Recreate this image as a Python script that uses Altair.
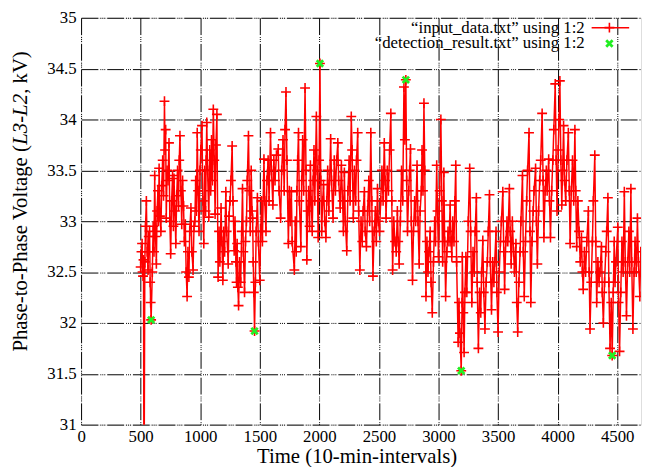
import altair as alt
import pandas as pd

# ---- data: (time, voltage) ----
seg_500_1000 = [
    (500, 32.55), (507, 32.7), (512, 32.78), (516, 32.5), (520, 32.46), (524, 32.62), (528, 30.0),
    (535, 32.6), (541, 32.95), (548, 33.2), (555, 32.7), (562, 32.52), (568, 32.85),
    (575, 32.9), (580, 32.4), (584, 32.2), (588, 32.03),
    (598, 32.5), (605, 32.95), (612, 32.7), (618, 33.45), (625, 32.85), (632, 32.58), (638, 33.1),
    (645, 33.3), (650, 33.0), (655, 33.52), (662, 33.05), (670, 32.9), (677, 33.35),
    (685, 33.6), (692, 33.25), (700, 34.18), (705, 33.7), (710, 33.9), (715, 33.03), (722, 33.5),
    (730, 33.4), (738, 33.77), (745, 33.0), (752, 32.68), (760, 33.2), (768, 33.45),
    (775, 32.95), (780, 33.42), (788, 33.1), (795, 32.78), (803, 33.25), (810, 33.5),
    (818, 33.15), (824, 33.6), (830, 33.84), (838, 33.3), (845, 32.97), (852, 33.4), (860, 33.15),
    (867, 32.8), (875, 32.97), (882, 32.5), (890, 32.26), (897, 32.7), (905, 32.45),
    (912, 32.9), (922, 33.13), (930, 32.7), (940, 32.52), (948, 32.95), (955, 33.0),
    (962, 33.4), (968, 33.1), (975, 33.87), (982, 33.3), (990, 32.9), (998, 33.5),
]
seg_1000_2000 = [
    (1005, 33.7), (1015, 33.94), (1022, 33.2), (1030, 32.78), (1038, 33.5), (1045, 33.1),
    (1050, 33.6), (1055, 33.97), (1062, 33.5), (1072, 33.04), (1080, 33.7), (1088, 33.3),
    (1095, 33.8), (1102, 33.4), (1110, 34.1), (1118, 33.6), (1125, 33.07), (1132, 33.75),
    (1140, 34.05), (1150, 32.45),
    (1158, 32.9), (1165, 32.6), (1175, 33.13), (1182, 32.8), (1190, 32.42), (1198, 32.9),
    (1205, 32.7), (1215, 33.29), (1222, 32.9), (1235, 32.58), (1242, 33.05), (1250, 33.2),
    (1258, 33.4), (1268, 33.74), (1275, 33.2), (1285, 32.71), (1292, 33.0), (1300, 32.6),
    (1305, 32.4), (1310, 32.78), (1316, 32.35), (1322, 32.17), (1330, 32.6), (1340, 32.4),
    (1348, 32.9), (1355, 33.32), (1362, 32.7), (1372, 32.3), (1380, 32.8), (1388, 33.0),
    (1395, 33.4), (1405, 33.84), (1412, 33.3), (1420, 32.9), (1428, 33.5), (1435, 33.1),
    (1440, 33.03), (1445, 32.6), (1450, 32.3), (1456, 31.92),
    (1463, 32.4), (1470, 32.9), (1480, 33.23), (1488, 32.8), (1500, 32.42), (1508, 32.9),
    (1515, 33.2), (1522, 32.8), (1535, 33.61), (1542, 33.2), (1552, 32.9), (1560, 33.4),
    (1570, 33.6), (1578, 33.2), (1590, 33.87), (1598, 33.5), (1610, 33.16), (1618, 33.6),
    (1628, 33.4), (1640, 33.65), (1655, 33.71), (1662, 33.3), (1675, 33.03), (1684, 33.5),
    (1695, 33.8), (1705, 33.3), (1712, 33.9), (1720, 34.27), (1728, 33.6), (1740, 32.78), (1748, 33.3),
    (1755, 33.0), (1765, 33.29), (1772, 32.8), (1790, 32.52), (1798, 33.0), (1806, 32.7),
    (1812, 33.3), (1818, 33.6), (1825, 33.87), (1832, 33.2), (1845, 32.75), (1852, 33.4),
    (1860, 33.8), (1868, 33.3), (1880, 34.31), (1888, 33.5), (1895, 32.62), (1902, 33.1),
    (1910, 33.3), (1918, 32.95), (1925, 33.55), (1932, 33.2), (1940, 32.9), (1948, 33.4),
    (1955, 33.7), (1962, 33.2), (1975, 34.03), (1982, 33.5), (1990, 32.84), (1998, 33.6),
]
seg_2000_3000 = [
    (2005, 34.55), (2012, 33.4), (2020, 32.9),
    (2028, 33.2), (2035, 33.36), (2045, 33.0), (2055, 32.84), (2062, 33.2),
    (2070, 33.5), (2080, 33.1), (2095, 33.81), (2102, 33.4), (2115, 33.03), (2125, 33.6),
    (2135, 33.3), (2145, 33.6), (2155, 33.77), (2162, 33.4), (2175, 33.13), (2185, 33.55),
    (2195, 33.2), (2202, 32.9), (2210, 33.48), (2218, 33.0), (2230, 32.71), (2240, 33.3),
    (2250, 33.6), (2258, 33.2), (2268, 34.03), (2275, 33.7), (2285, 33.03), (2295, 33.5),
    (2305, 33.2), (2312, 33.6), (2322, 33.87), (2330, 33.1), (2340, 32.52), (2350, 33.0),
    (2360, 32.8), (2368, 33.1), (2378, 33.29), (2385, 32.9), (2395, 32.75), (2405, 33.1),
    (2415, 33.4), (2422, 33.0), (2432, 33.87), (2440, 33.2), (2450, 32.46), (2460, 32.9),
    (2470, 33.1), (2478, 32.8), (2488, 33.32), (2495, 33.0), (2505, 32.9), (2515, 33.2),
    (2525, 33.5), (2535, 33.2), (2545, 33.77), (2552, 33.4), (2560, 33.03), (2570, 33.5),
    (2580, 33.3), (2590, 33.7), (2600, 34.06), (2608, 33.2), (2615, 32.52), (2625, 33.0),
    (2635, 32.8), (2645, 32.7), (2655, 33.1), (2662, 32.8), (2670, 32.58), (2680, 33.0),
    (2690, 33.5), (2700, 33.2), (2710, 34.32), (2718, 33.8), (2726, 34.39), (2733, 33.4),
    (2740, 32.9), (2750, 33.3),
    (2758, 33.5), (2765, 33.71), (2772, 33.0), (2782, 32.42), (2790, 32.9), (2800, 33.2),
    (2808, 33.0), (2820, 33.55), (2828, 33.0), (2838, 32.58), (2846, 33.1), (2856, 33.3),
    (2862, 33.7), (2870, 33.3), (2878, 34.16), (2885, 33.5), (2895, 32.26), (2903, 32.8),
    (2912, 32.5), (2920, 32.7), (2930, 32.9), (2938, 32.4), (2948, 32.1), (2958, 32.6),
    (2968, 33.0), (2975, 32.8), (2985, 33.55), (2992, 33.1),
]
seg_3000_4000 = [
    (3000, 32.65), (3010, 33.3), (3020, 34.0), (3028, 33.2), (3035, 32.6),
    (3042, 33.0), (3045, 33.48), (3052, 32.8), (3060, 32.26), (3070, 32.7), (3080, 32.9),
    (3088, 32.8), (3098, 33.16), (3105, 32.8), (3112, 32.65), (3120, 33.0), (3130, 32.8),
    (3138, 33.2), (3145, 33.55), (3152, 32.6), (3165, 31.81), (3172, 32.2), (3180, 31.9), (3191, 31.53),
    (3198, 32.2), (3200, 32.65), (3208, 32.1), (3215, 31.71), (3222, 32.3), (3230, 32.65), (3238, 32.3),
    (3250, 33.0), (3262, 33.52), (3270, 32.9), (3280, 32.2), (3290, 32.7), (3300, 32.5),
    (3308, 32.9), (3318, 33.23), (3325, 32.4), (3335, 31.75), (3345, 32.3), (3355, 32.1),
    (3362, 32.5), (3372, 32.81), (3380, 32.3), (3390, 31.94), (3400, 32.4), (3410, 32.6),
    (3418, 32.9), (3428, 33.26), (3435, 32.6), (3445, 32.13), (3455, 32.6), (3465, 32.4),
    (3472, 32.6), (3483, 32.9), (3490, 32.3), (3500, 31.91), (3510, 32.5), (3520, 32.8),
    (3528, 33.0), (3540, 33.29), (3548, 32.7), (3555, 32.33), (3565, 32.8), (3575, 33.0),
    (3582, 32.8), (3595, 33.32), (3602, 32.9), (3610, 32.58), (3620, 33.0), (3630, 32.7),
    (3638, 32.5), (3650, 32.78), (3657, 32.2), (3665, 31.91), (3675, 32.4), (3685, 32.7),
    (3692, 33.0), (3705, 33.45), (3712, 32.7), (3720, 32.26), (3730, 32.8), (3740, 33.2),
    (3748, 33.5), (3760, 33.87), (3768, 32.9), (3775, 32.2), (3785, 32.8), (3795, 33.1),
    (3802, 33.3), (3815, 33.52), (3822, 33.0), (3830, 32.58), (3840, 33.1), (3850, 33.4),
    (3858, 33.6), (3870, 34.06), (3878, 33.4), (3885, 32.84), (3895, 33.3), (3905, 33.5),
    (3912, 33.3), (3925, 33.61), (3932, 33.2), (3940, 32.84), (3950, 33.3), (3960, 33.6),
    (3968, 33.9), (3980, 34.35), (3988, 33.6), (3995, 33.1),
]
seg_4000_4700 = [
    (4005, 33.7), (4012, 34.0), (4019, 34.38), (4027, 33.6), (4035, 33.16),
    (4042, 33.5), (4050, 33.94), (4058, 33.4), (4068, 33.2), (4078, 33.6), (4090, 33.87),
    (4098, 33.3), (4105, 32.78),
    (4115, 33.3), (4125, 33.6), (4135, 33.2), (4145, 33.9), (4152, 33.3), (4160, 32.75),
    (4170, 33.2), (4180, 32.9),
    (4190, 32.6), (4200, 32.84), (4208, 32.5), (4215, 32.33), (4225, 32.7), (4235, 32.5),
    (4245, 32.8), (4258, 33.1), (4265, 32.5), (4272, 31.94), (4282, 32.4), (4292, 32.8),
    (4300, 33.2), (4312, 33.65), (4320, 32.8), (4328, 32.2), (4338, 32.6), (4348, 32.4),
    (4355, 32.5), (4368, 32.75), (4375, 32.3), (4384, 32.0), (4394, 32.4), (4404, 32.7),
    (4412, 32.9), (4422, 33.23), (4430, 32.4), (4440, 31.75), (4450, 32.2), (4458, 31.68),
    (4467, 32.3), (4475, 32.8), (4482, 32.4), (4490, 32.6), (4505, 32.94), (4512, 32.2),
    (4520, 31.72), (4530, 32.3),
    (4540, 32.8), (4550, 32.5), (4560, 33.29), (4568, 32.6), (4578, 32.07), (4588, 32.6),
    (4598, 32.9), (4605, 32.5), (4615, 33.32), (4622, 32.6), (4632, 31.94), (4642, 32.5),
    (4650, 32.8), (4660, 32.5), (4670, 33.03), (4678, 32.6), (4690, 32.26), (4698, 32.7),
]

det_time = [588, 1456, 2005, 2726, 3191, 4458]
det_voltage = [32.03, 31.92, 34.55, 34.39, 31.53, 31.68]

x_ticks = [0, 500, 1000, 1500, 2000, 2500, 3000, 3500, 4000, 4500]
y_ticks = [31, 31.5, 32, 32.5, 33, 33.5, 34, 34.5, 35]

legend_labels = ["\u201cinput_data.txt\u201d using 1:2", "\u201cdetection_result.txt\u201d using 1:2"]
# y-axis title pieces (the L3-L2 part is italic in the reference)
ytitle_parts = ["Phase-to-Phase Voltage (", "L3-L2", ", kV)"]

rows = seg_500_1000 + seg_1000_2000 + seg_2000_3000 + seg_3000_4000 + seg_4000_4700
df = pd.DataFrame(rows, columns=["t", "v"])
df["order"] = range(len(df))
det = pd.DataFrame({"t": det_time, "v": det_voltage})
one = pd.DataFrame({"k": [0]})

FONT = "Liberation Serif"
PLUS = "M-1,0H1M0,-1V1"
XSHAPE = "M-1,-1L1,1M-1,1L1,-1"
GRID_DASH = [17, 2, 1, 1, 1, 1, 1, 2]
RED = "#ff0000"

x_enc = alt.X("t:Q", scale=alt.Scale(domain=[0, 4700], nice=False, zero=False),
              axis=alt.Axis(values=x_ticks, title="Time (10-min-intervals)", format="d",
                            grid=True, gridColor="black", gridDash=GRID_DASH, gridWidth=1,
                            ticks=False, domain=False, labelFont=FONT, labelFontSize=17,
                            labelColor="black", labelPadding=4, titleFont=FONT,
                            titleFontSize=21, titleFontWeight="normal", titleColor="black",
                            titleX=279, titleY=38, titleBaseline="alphabetic",
                            labelOverlap=False, labelFlush=False))
y_enc = alt.Y("v:Q", scale=alt.Scale(domain=[31, 35], nice=False, zero=False),
              axis=alt.Axis(values=y_ticks, title=None,
                            labelExpr="datum.value + ''",
                            grid=True, gridColor="black", gridDash=GRID_DASH, gridWidth=1,
                            ticks=False, domain=False, labelFont=FONT, labelFontSize=17,
                            labelColor="black", labelPadding=5,
                            labelOverlap=False, labelFlush=False))

base = alt.Chart(df)
line = base.mark_line(color=RED, strokeWidth=1.5, clip=True).encode(
    x=x_enc, y=y_enc, order="order:Q")
pts = base.mark_point(shape=PLUS, size=100, color=RED, strokeWidth=1.6, filled=False,
                      opacity=1, clip=True).encode(x=x_enc, y=y_enc)
green = alt.Chart(det).mark_point(shape=XSHAPE, size=42, color="#22ee22", strokeWidth=2.8,
                                  filled=False, opacity=1, clip=True).encode(x=x_enc, y=y_enc)

# y title built from three rotated text pieces (bottom-to-top)
YT_X = -61
yt1 = alt.Chart(one).mark_text(angle=270, align="left", baseline="middle", font=FONT,
                               fontSize=21, color="black").encode(
    x=alt.value(YT_X), y=alt.value(338), text=alt.value(ytitle_parts[0]))
yt2 = alt.Chart(one).mark_text(angle=270, align="left", baseline="middle", font=FONT,
                               fontSize=21, fontStyle="italic", color="black").encode(
    x=alt.value(YT_X), y=alt.value(128.5), text=alt.value(ytitle_parts[1]))
yt3 = alt.Chart(one).mark_text(angle=270, align="left", baseline="middle", font=FONT,
                               fontSize=21, color="black").encode(
    x=alt.value(YT_X), y=alt.value(77), text=alt.value(ytitle_parts[2]))

leg_t1 = alt.Chart(one).mark_text(align="right", baseline="middle", font=FONT, fontSize=17,
                                  color="black").encode(
    x=alt.value(510), y=alt.value(10), text=alt.value(legend_labels[0]))
leg_t2 = alt.Chart(one).mark_text(align="right", baseline="middle", font=FONT, fontSize=17,
                                  color="black").encode(
    x=alt.value(510), y=alt.value(26), text=alt.value(legend_labels[1]))
leg_line = alt.Chart(one).mark_rule(color=RED, strokeWidth=1.5).encode(
    x=alt.value(517), x2=alt.value(555), y=alt.value(10))
leg_plus = alt.Chart(one).mark_point(shape=PLUS, size=100, color=RED, strokeWidth=1.6,
                                     filled=False, opacity=1).encode(
    x=alt.value(535), y=alt.value(10))
leg_x = alt.Chart(one).mark_point(shape=XSHAPE, size=42, color="#22ee22", strokeWidth=2.8,
                                  filled=False, opacity=1).encode(
    x=alt.value(535), y=alt.value(26))

chart = alt.layer(line, pts, green, yt1, yt2, yt3, leg_t1, leg_t2, leg_line, leg_plus,
                  leg_x).properties(
    width=567, height=412,
    autosize=alt.AutoSizeParams(type="none"),
    padding={"left": 74, "top": 7, "right": 1, "bottom": 40},
).configure_view(stroke="black", strokeWidth=1.2).configure(background="white")

chart.save("out.html", embed_options={"renderer": "svg", "actions": False})
